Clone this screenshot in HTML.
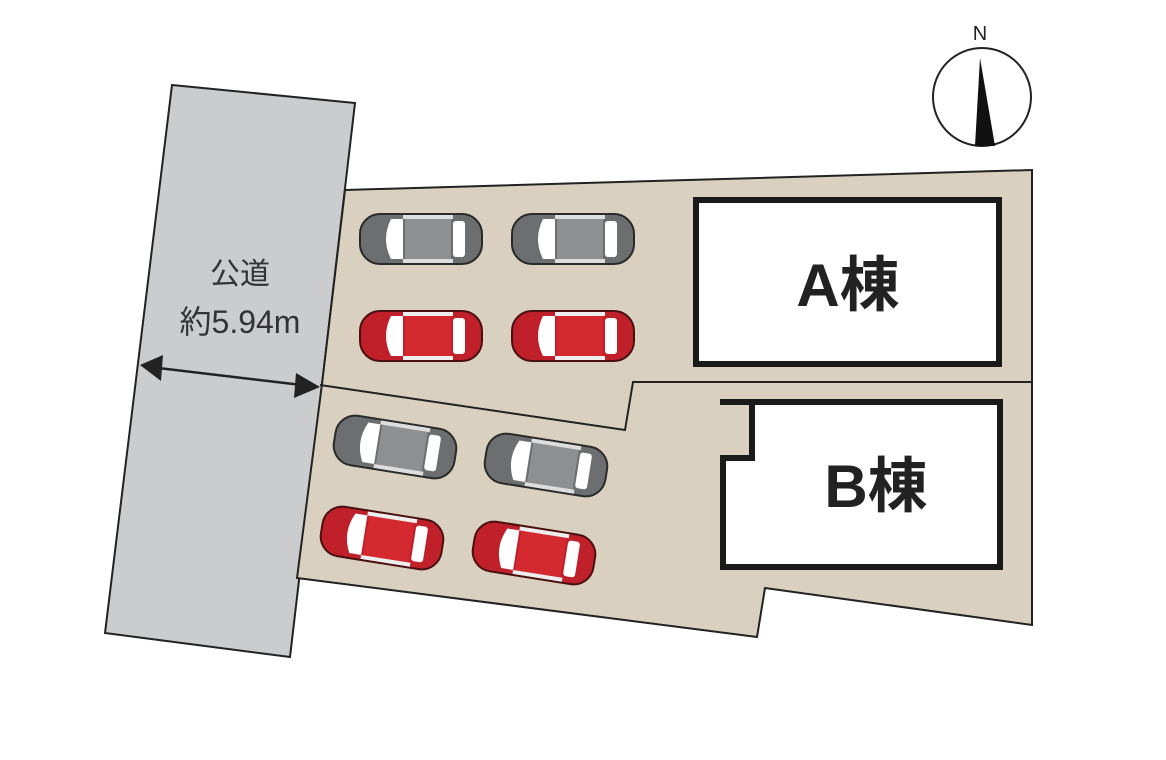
<!DOCTYPE html>
<html><head><meta charset="utf-8"><style>html,body{margin:0;padding:0;background:#fff}svg{display:block}</style></head>
<body>
<svg width="1166" height="760" viewBox="0 0 1166 760" xmlns="http://www.w3.org/2000/svg">
<defs>
<g id="gcar">
<rect x="-61" y="-25" width="122" height="50" rx="20" fill="#6d6e70" stroke="#2a2a2a" stroke-width="2"/>
<rect x="-16" y="-20" width="46" height="40" fill="#8e8f91"/>
<path d="M-30,-20 Q-40,0 -30,20 L-18,20 L-18,-20Z" fill="#fff"/>
<rect x="32" y="-18" width="12" height="36" rx="3" fill="#fff"/>
<rect x="-18" y="-24" width="50" height="4" fill="#ddd"/>
<rect x="-18" y="20" width="50" height="4" fill="#ddd"/>
</g>
<g id="rcar">
<rect x="-61" y="-25" width="122" height="50" rx="20" fill="#c0202a" stroke="#4a1010" stroke-width="2"/>
<rect x="-16" y="-20" width="46" height="40" fill="#d42a2f"/>
<path d="M-30,-20 Q-40,0 -30,20 L-18,20 L-18,-20Z" fill="#fff"/>
<rect x="32" y="-18" width="12" height="36" rx="3" fill="#fff"/>
<rect x="-18" y="-24" width="50" height="4" fill="#eee"/>
<rect x="-18" y="20" width="50" height="4" fill="#eee"/>
</g>
</defs>
<polygon points="172,85 355,103 290,657 105,633" fill="#cbccce" stroke="#222" stroke-width="2"/>
<polygon points="345,190 1032,170 1032,625 765,588 757,637 297,578 322,384" fill="#d9d0bf" stroke="#222" stroke-width="2"/>
<polyline points="320,385 625,430 633,382 1032,382" fill="none" stroke="#222" stroke-width="2"/>
<rect x="696" y="200" width="303" height="164" fill="#fff" stroke="#1a1a1a" stroke-width="6"/>
<polygon points="720,402 1000,402 1000,567 723,567 723,458 752,458 752,402" fill="#fff"/>
<polyline points="720,402 1000,402 1000,567 723,567 723,458 752,458 752,402" fill="none" stroke="#1a1a1a" stroke-width="6"/>
<text x="848" y="306" font-family="'Liberation Sans','Noto Sans CJK JP',sans-serif" font-size="60" font-weight="bold" text-anchor="middle" fill="#222">A棟</text>
<text x="876" y="507" font-family="'Liberation Sans','Noto Sans CJK JP',sans-serif" font-size="60" font-weight="bold" text-anchor="middle" fill="#222">B棟</text>
<use href="#gcar" transform="translate(421,239)"/>
<use href="#gcar" transform="translate(573,239)"/>
<use href="#rcar" transform="translate(421,336)"/>
<use href="#rcar" transform="translate(573,336)"/>
<use href="#gcar" transform="translate(395,447) rotate(9)"/>
<use href="#gcar" transform="translate(546,465) rotate(9)"/>
<use href="#rcar" transform="translate(382,538) rotate(9)"/>
<use href="#rcar" transform="translate(534,553) rotate(9)"/>
<text x="240" y="284" font-family="'Liberation Sans','Noto Sans CJK JP',sans-serif" font-size="30" text-anchor="middle" fill="#333">公道</text>
<text x="240" y="333" font-family="'Liberation Sans','Noto Sans CJK JP',sans-serif" font-size="32" text-anchor="middle" fill="#333">約5.94m</text>
<line x1="150" y1="367" x2="310" y2="386" stroke="#222" stroke-width="2.5"/>
<polygon points="140,365 163,355 161,381" fill="#222"/>
<polygon points="320,387 296,373 294,398" fill="#222"/>
<circle cx="982" cy="97" r="49" fill="#fff" stroke="#222" stroke-width="2"/>
<polygon points="980,58 975,146 995,146" fill="#111"/>
<text x="980" y="40" font-family="'Liberation Sans',sans-serif" font-size="20" text-anchor="middle" fill="#222">N</text>
</svg>
</body></html>
